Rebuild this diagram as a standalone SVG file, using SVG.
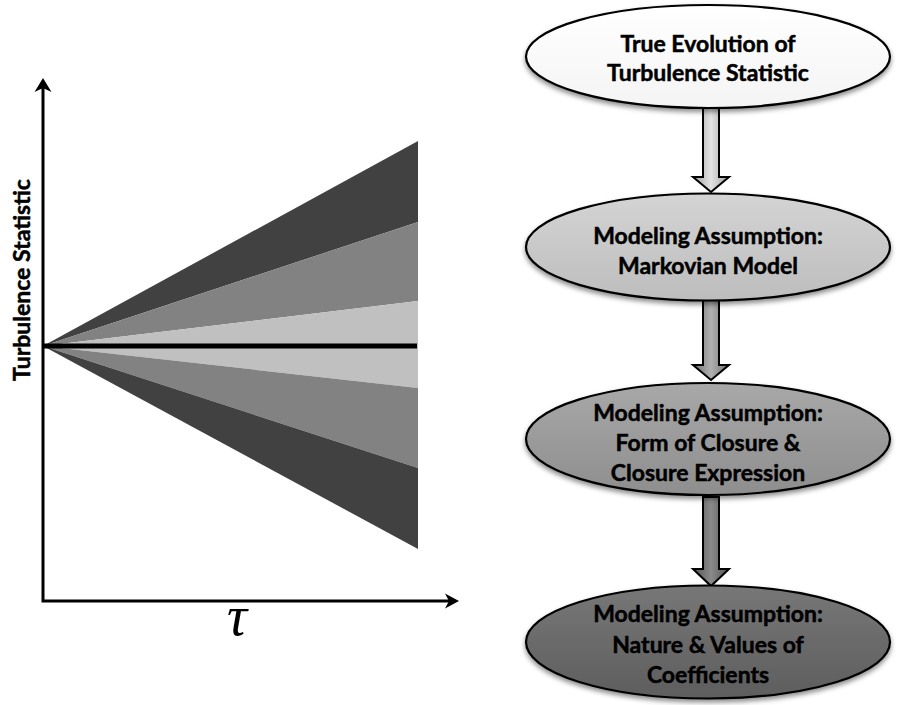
<svg xmlns="http://www.w3.org/2000/svg" width="907" height="705" viewBox="0 0 907 705">
<style>
.lbl{font-family:Lato,"Open Sans","Liberation Sans",sans-serif;font-weight:bold;font-size:23px;fill:#000;stroke:#000;stroke-width:0.5;text-anchor:middle}
.node{stroke:#000;stroke-width:2.2}
.arr{stroke:#000;stroke-width:2;stroke-linejoin:miter}
.axis{stroke:#000;stroke-width:3;fill:none}
</style>
<defs>
<filter id="sh" x="-10%" y="-10%" width="120%" height="130%">
<feDropShadow dx="0" dy="3" stdDeviation="2.5" flood-color="#000" flood-opacity="0.45"/>
</filter>
<linearGradient id="g1" x1="0" y1="0" x2="0" y2="1"><stop offset="0" stop-color="#ffffff"/><stop offset="1" stop-color="#f4f4f4"/></linearGradient>
<linearGradient id="g2" x1="0" y1="0" x2="0" y2="1"><stop offset="0" stop-color="#d4d4d4"/><stop offset="1" stop-color="#bdbdbd"/></linearGradient>
<linearGradient id="g3" x1="0" y1="0" x2="0" y2="1"><stop offset="0" stop-color="#a8a8a8"/><stop offset="1" stop-color="#8e8e8e"/></linearGradient>
<linearGradient id="g4" x1="0" y1="0" x2="0" y2="1"><stop offset="0" stop-color="#777777"/><stop offset="1" stop-color="#5e5e5e"/></linearGradient>
<linearGradient id="a1" x1="0" y1="0" x2="1" y2="0"><stop offset="0" stop-color="#a0a0a0"/><stop offset="0.5" stop-color="#e2e2e2"/><stop offset="1" stop-color="#a0a0a0"/></linearGradient>
<linearGradient id="a2" x1="0" y1="0" x2="1" y2="0"><stop offset="0" stop-color="#707070"/><stop offset="0.5" stop-color="#b0b0b0"/><stop offset="1" stop-color="#707070"/></linearGradient>
<linearGradient id="a3" x1="0" y1="0" x2="1" y2="0"><stop offset="0" stop-color="#555555"/><stop offset="0.5" stop-color="#8a8a8a"/><stop offset="1" stop-color="#555555"/></linearGradient>
</defs>

<g id="plot">
<polygon points="43,346 418,141 418,222" fill="#414141"/>
<polygon points="43,346 418,222 418,301" fill="#828282"/>
<polygon points="43,346 418,301 418,346" fill="#c0c0c0"/>
<polygon points="43,346 418,346 418,388" fill="#c0c0c0"/>
<polygon points="43,346 418,388 418,468" fill="#828282"/>
<polygon points="43,346 418,468 418,549" fill="#414141"/>
<line x1="43" y1="346" x2="417" y2="346" stroke="#000" stroke-width="5"/>
</g>

<g id="axes">
<path class="axis" d="M43,88 V601 H450"/>
<path d="M43,78 L51.5,92 L43,88 L34.5,92 Z" fill="#000"/>
<path d="M459,601 L445,593.5 L449,601 L445,608.5 Z" fill="#000"/>
<text class="lbl" transform="translate(30,280) rotate(-90)">Turbulence Statistic</text>
<text x="237" y="635" font-family="'Liberation Serif',serif" font-style="italic" font-size="56" text-anchor="middle">τ</text>
</g>

<g id="connectors">
<path class="arr" fill="url(#a1)" d="M703,107 H719 V177 H729 L711,192 L693,177 H703 Z"/>
<path class="arr" fill="url(#a2)" d="M703,300 H719 V365 H729 L711,380 L693,365 H703 Z"/>
<path class="arr" fill="url(#a3)" d="M703,497 H719 V569 H729 L711,586 L693,569 H703 Z"/>
</g>

<g id="n1">
<ellipse class="node" cx="708" cy="56.5" rx="182" ry="51.5" fill="url(#g1)" filter="url(#sh)"/>
<text class="lbl" x="708" y="52">True Evolution of</text>
<text class="lbl" x="708" y="81">Turbulence Statistic</text>
</g>
<g id="n2">
<ellipse class="node" cx="708" cy="247" rx="182" ry="53.5" fill="url(#g2)" filter="url(#sh)"/>
<text class="lbl" x="708" y="244">Modeling Assumption:</text>
<text class="lbl" x="708" y="274">Markovian Model</text>
</g>
<g id="n3">
<ellipse class="node" cx="708" cy="439" rx="182" ry="56" fill="url(#g3)" filter="url(#sh)"/>
<text class="lbl" x="708" y="421">Modeling Assumption:</text>
<text class="lbl" x="708" y="451">Form of Closure &amp;</text>
<text class="lbl" x="708" y="481">Closure Expression</text>
</g>
<g id="n4">
<ellipse class="node" cx="708" cy="642" rx="182" ry="56.5" fill="url(#g4)" filter="url(#sh)"/>
<text class="lbl" x="708" y="622">Modeling Assumption:</text>
<text class="lbl" x="708" y="653">Nature &amp; Values of</text>
<text class="lbl" x="708" y="683">Coefficients</text>
</g>
</svg>
